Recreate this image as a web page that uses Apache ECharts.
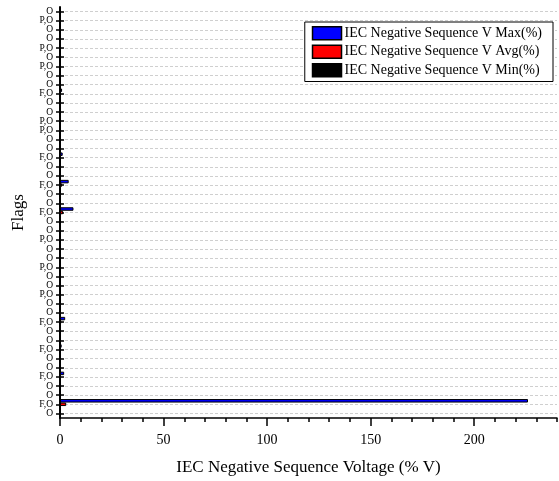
<!DOCTYPE html>
<html>
<head>
<meta charset="utf-8">
<script src="https://cdn.jsdelivr.net/npm/echarts@6/dist/echarts.min.js"></script>
<style>html,body{margin:0;padding:0;background:#fff}#c{width:559px;height:481px}</style>
</head>
<body>
<div id="c"></div>
<script>
var categories = ['O','P,O','O','O','P,O','O','P,O','O','O',
  'F,O','O','O','P,O','P,O','O','O','F,O','O',
  'O','F,O','O','O','F,O','O','O','P,O','O',
  'O','P,O','O','O','P,O','O','O','F,O','O',
  'O','F,O','O','O','F,O','O','O','F,O','O'];
var maxVals = [0,0,0,0,0,0,0,0,0,
  1.0,0,0,0,0,0,0,1.3,0,
  0,4.2,0,0,6.5,0,0,0,0,
  0,0,0,0,0,0,0,2.5,0,
  0,0.8,0,0,2.0,0,0,226,0];
var avgVals = [0,0,0,0,0,0,0,0,0,
  0.3,0,0,0,0,0,0,0.4,0,
  0,1.0,0,0,1.5,0,0,0,0,
  0,0,0,0,0,0,0,0.6,0,
  0,0.3,0,0,0.5,0,0,3.0,0];
var minVals = [0,0,0,0,0,0,0,0,0,
  0,0,0,0,0,0,0,0,0,
  0,0,0,0,0,0,0,0,0,
  0,0,0,0,0,0,0,0,0,
  0,0,0,0,0,0,0,0.2,0];
var xTicks = [0,50,100,150,200];
var xMax = 240;
var seriesNames = ['IEC Negative Sequence V Max(%)','IEC Negative Sequence V Avg(%)','IEC Negative Sequence V Min(%)'];
var colors = ['#0000FF','#FF0000','#000000'];

var serif = '"Liberation Serif","Times New Roman",serif';
var chart = echarts.init(document.getElementById('c'), null, {renderer:'canvas'});
var vals = [maxVals, avgVals, minVals];
var series = seriesNames.map(function(n,i){
  return {
    name:n, type:'bar', yAxisIndex:0, xAxisIndex:0, data: vals[i],
    barWidth:3.5, barGap:'0%',
    itemStyle:{color:colors[i], borderColor:'#000', borderWidth:1},
    emphasis:{disabled:true}, animation:false
  };
});
chart.setOption({
  animation:false,
  color: colors,
  grid:{left:60, right:2, top:7, bottom:63, containLabel:false},
  legend:{
    orient:'vertical', right:6, top:22,
    data: seriesNames.map(function(n,i){return {name:n, itemStyle:{color:colors[i], borderColor:'#000', borderWidth:1.5}};}),
    icon:'rect', itemWidth:29, itemHeight:13, itemGap:4,
    padding:[4,11,4,7],
    borderColor:'#000', borderWidth:1, backgroundColor:'#fff',
    textStyle:{fontFamily:serif, fontSize:14, color:'#000', padding:[0,0,0,-2]},
    selectedMode:false
  },
  xAxis:[{
    type:'value', min:xTicks[0], max:xMax, interval:50,
    name:'IEC Negative Sequence Voltage (% V)', nameLocation:'middle', nameGap:41,
    nameTextStyle:{fontFamily:serif, fontSize:17, color:'#000'},
    axisLine:{show:true, lineStyle:{color:'#000', width:1.5}},
    axisTick:{show:true, length:8, lineStyle:{color:'#000', width:1.5}},
    axisLabel:{fontFamily:serif, fontSize:14, color:'#000', margin:15, showMaxLabel:false},
    splitLine:{show:false}
  },{
    type:'value', min:xTicks[0], max:xMax, interval:10, position:'bottom',
    axisLine:{show:false},
    axisTick:{show:true, length:4, lineStyle:{color:'#000', width:1.5}},
    axisLabel:{show:false}, splitLine:{show:false}
  }],
  yAxis:[{
    type:'category', data:categories, inverse:true,
    name:'Flags', nameLocation:'middle', nameGap:33, nameRotate:90,
    nameTextStyle:{fontFamily:serif, fontSize:17, color:'#000'},
    axisLine:{show:true, lineStyle:{color:'#000', width:2}},
    axisTick:{show:true, alignWithLabel:true, length:4, lineStyle:{color:'#000', width:1.5}},
    axisLabel:{interval:0, fontFamily:serif, fontSize:9.5, color:'#000', margin:7},
    splitLine:{show:true, alignWithLabel:true, interval:0, lineStyle:{type:[3,2], color:'#cfcfcf', width:1}}
  },{
    type:'category', data:categories, inverse:true, position:'left',
    axisLine:{show:false},
    axisTick:{show:true, inside:true, alignWithLabel:true, interval:0, length:4, lineStyle:{color:'#000', width:1.5}},
    axisLabel:{show:false}, splitLine:{show:false}
  }],
  series: series
});
</script>
</body>
</html>
